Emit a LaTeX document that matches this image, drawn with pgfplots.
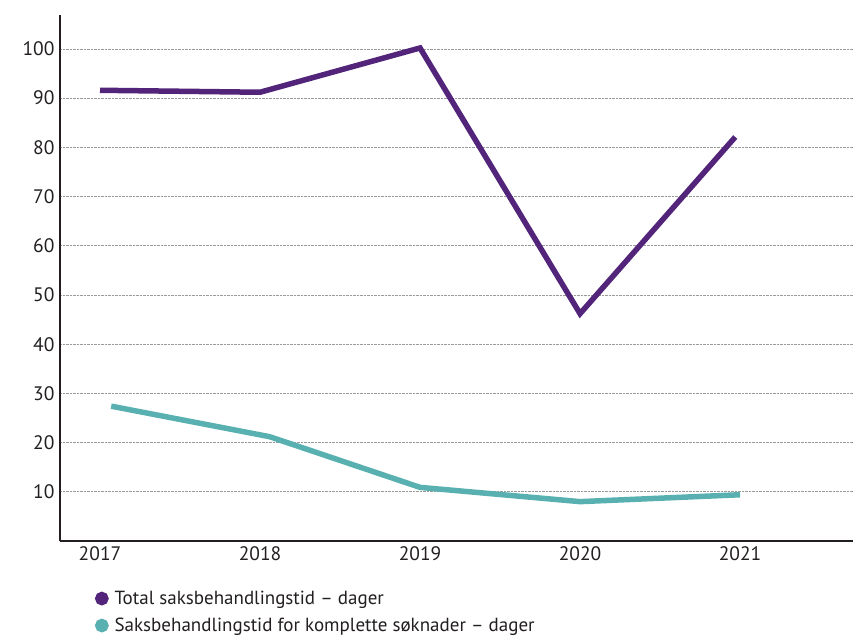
\documentclass[border=0pt]{standalone}
\usepackage{fontspec}
\setmainfont{PT Sans}
\usepackage{pgfplots}
\pgfplotsset{compat=1.18}
\definecolor{lilla}{RGB}{82,36,122}
\definecolor{teal2}{RGB}{88,177,176}
\definecolor{txt}{RGB}{35,31,32}
\begin{document}
\begin{tikzpicture}[x=1pt,y=1pt]
\useasboundingbox (0,0) rectangle (853,640);
\begin{axis}[
  at={(60pt,99pt)}, anchor=south west,
  scale only axis, width=793pt, height=526pt,
  xmin=2016.75, xmax=2021.706, ymin=0, ymax=106.9,
  axis x line*=bottom, axis y line*=left,
  axis line style={line width=2.6pt, txt, -},
  xtick={2017,2018,2019,2020,2021},
  ytick={10,20,...,100},
  xticklabel style={/pgf/number format/1000 sep=},
  /pgf/number format/assume math mode=true,
  tick style={draw=none},
  ymajorgrids, grid style={densely dotted, gray!80, line width=0.8pt},
  ticklabel style={font=\fontsize{19.5}{22}\selectfont, text=txt},
  yticklabel style={xshift=-2pt},
  xticklabel style={yshift=-2pt},
  legend style={draw=none, fill=none, at={(axis description cs:0.044,-0.091)}, anchor=north west,
    font=\fontsize{19}{21}\selectfont, text=txt, row sep=8pt, inner sep=0pt},
  legend cell align=left,
  legend image code/.code={\fill[#1] (0pt,0pt) circle (4pt); \path (8pt,0pt);},
]
\addplot[lilla, line width=5.5pt, line join=miter] coordinates {
  (2017,91.6) (2018,91.2) (2019,100.2) (2020,46.2) (2020.97,82.1)};
\addlegendentry{Total saksbehandlingstid – dager}
\addplot[teal2, line width=5.5pt, line join=miter] coordinates {
  (2017.07,27.4) (2018.06,21.2) (2019,10.9) (2020,8.0) (2021.0,9.4)};
\addlegendentry{Saksbehandlingstid for komplette søknader – dager}
\end{axis}
\end{tikzpicture}
\end{document}
